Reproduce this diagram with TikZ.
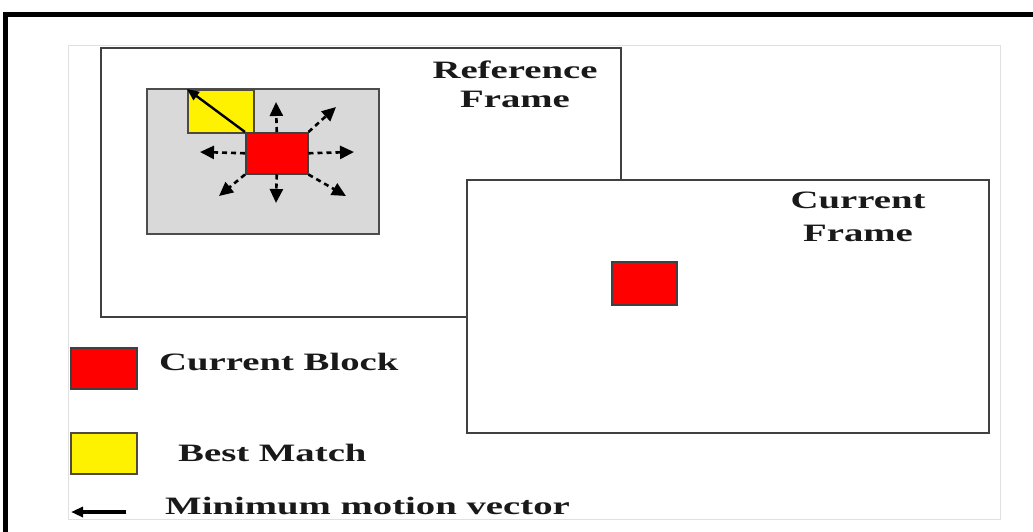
\documentclass[tikz,border=0pt]{standalone}
\usepackage{fontspec}
\setmainfont{Liberation Serif}
\usetikzlibrary{arrows.meta}
\tikzset{
  framebox/.style={draw=black!75, line width=2pt, fill=white, inner sep=0pt, anchor=north west},
  blk/.style={draw=black!75, line width=1.5pt, inner sep=0pt, anchor=north west},
  redblk/.style={blk, fill=red},
  yelblk/.style={blk, fill=yellow, draw=black!60!yellow!50!black},
  lbl/.style={font=\fontsize{25}{30}\selectfont\bfseries, inner sep=0pt, anchor=base, text=black!90},
  darr/.style={line width=2.6pt, dash pattern=on 5pt off 4pt, -{Triangle[length=14pt,width=13pt]}},
  sarr/.style={line width=2.4pt, -{Triangle[length=12pt,width=10pt]}},
}
\newcommand\wx[1]{\scalebox{1.55}[1]{#1}}
\begin{document}
\begin{tikzpicture}[x=1pt,y=-1pt]
\useasboundingbox (0,0) rectangle (1033,531);
\clip (0,0) rectangle (1033,531);
\fill[white] (0,0) rectangle (1033,531);
\draw[black!12, line width=1pt] (68,45) rectangle (1000,519);
\draw[black, line width=5pt] (5,545) -- (5,14) -- (1045,14);
% reference frame
\node[framebox, minimum width=520pt, minimum height=269pt] (ref) at (100,47) {};
\node[lbl] (reft1) at (515,78) {\wx{Reference}};
\node[lbl] (reft2) at (515,107) {\wx{Frame}};
% search area
\node[blk, fill=black!15, draw=black!70, line width=2pt, minimum width=232pt, minimum height=145pt] (search) at (146,88) {};
\node[yelblk, minimum width=66pt, minimum height=43pt] (best) at (187,89) {};
\node[redblk, minimum width=62pt, minimum height=41pt] (cur) at (245,132) {};
\coordinate (tU) at (276,102);
\coordinate (tD) at (276,203);
\coordinate (tL) at (200,152);
\coordinate (tR) at (354,152);
\coordinate (tUR) at (336,107);
\coordinate (tDR) at (346,196);
\coordinate (tDL) at (219,196);
\draw[darr] (cur.north) -- (tU);
\draw[darr] (cur.south) -- (tD);
\draw[darr] (cur.west) -- (tL);
\draw[darr] (cur.east) -- (tR);
\draw[darr] (cur.north east) -- (tUR);
\draw[darr] (cur.south east) -- (tDR);
\draw[darr] (cur.south west) -- (tDL);
\draw[sarr] (cur.north west) -- (best.north west);
% current frame
\node[framebox, minimum width=522pt, minimum height=253pt] (curf) at (466,179) {};
\node[lbl] (curt1) at (858,208) {\wx{Current}};
\node[lbl] (curt2) at (858,241) {\wx{Frame}};
\node[redblk, minimum width=65pt, minimum height=43pt] (cur2) at (611,261) {};
% legend
\node[redblk, minimum width=66pt, minimum height=41pt] (lgred) at (70,347) {};
\node[lbl, anchor=base west] (lgredt) at (159,370) {\wx{Current Block}};
\node[yelblk, minimum width=66pt, minimum height=41pt] (lgyel) at (70,432) {};
\node[lbl, anchor=base west] (lgyelt) at (178,461) {\wx{Best Match}};
\coordinate (la) at (126,512);
\coordinate (lb) at (71,512);
\draw[sarr, line width=3.5pt] (la) -- (lb);
\node[lbl, anchor=base west] (lgarrt) at (165,514) {\wx{Minimum motion vector}};
\end{tikzpicture}
\end{document}
